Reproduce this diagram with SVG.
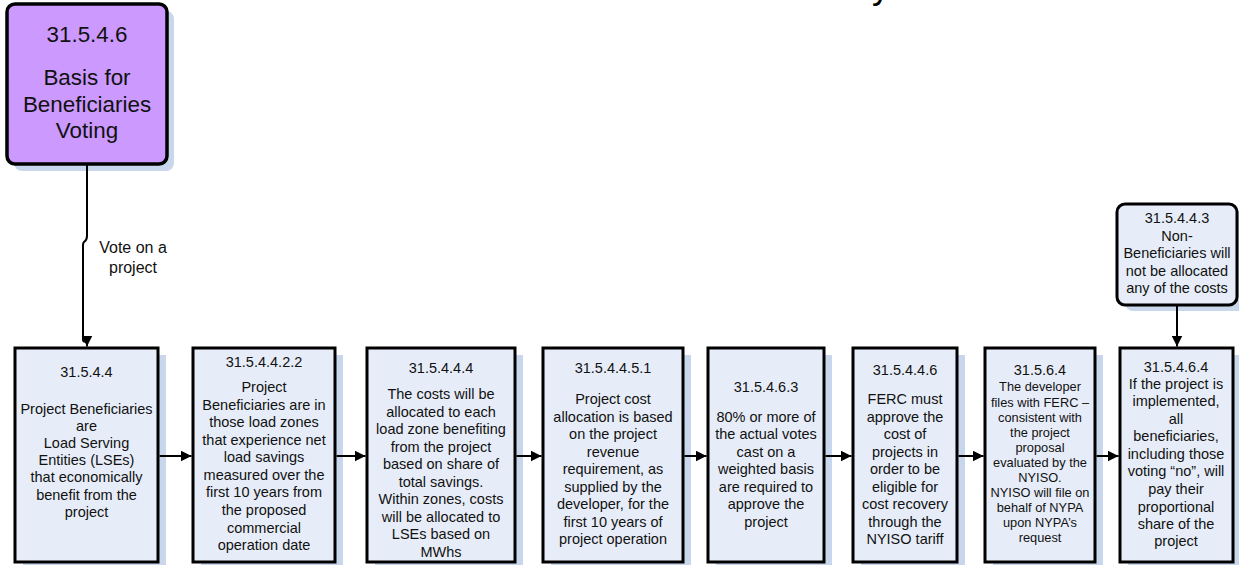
<svg xmlns="http://www.w3.org/2000/svg" width="1239" height="565" viewBox="0 0 1239 565">
<defs>
<style>
.box{fill:#e7edf8;stroke:#000;stroke-width:3}
.shadow{fill:#c9d7ec}
.purple{fill:#cc99ff;stroke:#000;stroke-width:3.5}
.t{font-family:"Liberation Sans",Arial,sans-serif;font-size:14.5px;fill:#111;text-anchor:middle}
.ts{font-family:"Liberation Sans",Arial,sans-serif;font-size:12.8px;fill:#111;text-anchor:middle}
.tb{font-family:"Liberation Sans",Arial,sans-serif;font-size:22.4px;fill:#111;text-anchor:middle}
.lbl{font-family:"Liberation Sans",Arial,sans-serif;font-size:16px;fill:#111;text-anchor:middle}
.conn{fill:none;stroke:#000;stroke-width:2}
</style>
<marker id="ah" viewBox="0 0 10 10" refX="10" refY="5" markerWidth="11" markerHeight="11" markerUnits="userSpaceOnUse" orient="auto">
<path d="M0,0 L10,5 L0,10 Z" fill="#000"/>
</marker>
</defs>
<rect width="1239" height="565" fill="#fff"/>
<text x="872" y="-2.5" font-family="Liberation Sans, Arial, sans-serif" font-size="36" fill="#000">y</text>

<g id="node-basis">
<rect class="shadow" x="14" y="11" width="160" height="160" rx="8"/>
<rect class="purple" x="7" y="4" width="160" height="160" rx="8"/>
<text class="tb" x="87" y="42">31.5.4.6</text>
<text class="tb" x="87" y="85">Basis for</text>
<text class="tb" x="87" y="112">Beneficiaries</text>
<text class="tb" x="87" y="138">Voting</text>
</g>

<g id="node-nonbenef">
<rect class="shadow" x="1125" y="210" width="120" height="101" rx="8"/>
<rect class="box" x="1117" y="204" width="120" height="101" rx="8"/>
<text class="t" x="1177" y="223">31.5.4.4.3</text>
<text class="t" x="1177" y="241">Non-</text>
<text class="t" x="1177" y="258">Beneficiaries will</text>
<text class="t" x="1177" y="276">not be allocated</text>
<text class="t" x="1177" y="293">any of the costs</text>
</g>

<g id="node-1">
<rect class="shadow" x="23" y="355" width="143" height="214"/>
<rect class="box" x="15" y="348" width="143" height="214"/>
<text class="t" x="86.5" y="377">31.5.4.4</text>
<text class="t" x="86.5" y="414">Project Beneficiaries</text>
<text class="t" x="86.5" y="431">are</text>
<text class="t" x="86.5" y="448">Load Serving</text>
<text class="t" x="86.5" y="465">Entities (LSEs)</text>
<text class="t" x="86.5" y="482">that economically</text>
<text class="t" x="86.5" y="500">benefit from the</text>
<text class="t" x="86.5" y="517">project</text>
</g>

<g id="node-2">
<rect class="shadow" x="201" y="355" width="142" height="214"/>
<rect class="box" x="193" y="348" width="142" height="214"/>
<text class="t" x="264" y="367">31.5.4.4.2.2</text>
<text class="t" x="264" y="392">Project</text>
<text class="t" x="264" y="410">Beneficiaries are in</text>
<text class="t" x="264" y="427">those load zones</text>
<text class="t" x="264" y="445">that experience net</text>
<text class="t" x="264" y="462">load savings</text>
<text class="t" x="264" y="480">measured over the</text>
<text class="t" x="264" y="497">first 10 years from</text>
<text class="t" x="264" y="515">the proposed</text>
<text class="t" x="264" y="533">commercial</text>
<text class="t" x="264" y="550">operation date</text>
</g>

<g id="node-3">
<rect class="shadow" x="375" y="355" width="148" height="214"/>
<rect class="box" x="367" y="348" width="148" height="214"/>
<text class="t" x="441" y="373">31.5.4.4.4</text>
<text class="t" x="441" y="399">The costs will be</text>
<text class="t" x="441" y="417">allocated to each</text>
<text class="t" x="441" y="434">load zone benefiting</text>
<text class="t" x="441" y="452">from the project</text>
<text class="t" x="441" y="469">based on share of</text>
<text class="t" x="441" y="487">total savings.</text>
<text class="t" x="441" y="504">Within zones, costs</text>
<text class="t" x="441" y="522">will be allocated to</text>
<text class="t" x="441" y="539">LSEs based on</text>
<text class="t" x="441" y="557">MWhs</text>
</g>

<g id="node-4">
<rect class="shadow" x="551" y="355" width="140" height="214"/>
<rect class="box" x="543" y="348" width="140" height="214"/>
<text class="t" x="613" y="373">31.5.4.4.5.1</text>
<text class="t" x="613" y="404">Project cost</text>
<text class="t" x="613" y="422">allocation is based</text>
<text class="t" x="613" y="439">on the project</text>
<text class="t" x="613" y="457">revenue</text>
<text class="t" x="613" y="474">requirement, as</text>
<text class="t" x="613" y="492">supplied by the</text>
<text class="t" x="613" y="509">developer, for the</text>
<text class="t" x="613" y="527">first 10 years of</text>
<text class="t" x="613" y="544">project operation</text>
</g>

<g id="node-5">
<rect class="shadow" x="716" y="355" width="116" height="214"/>
<rect class="box" x="708" y="348" width="116" height="214"/>
<text class="t" x="766" y="392">31.5.4.6.3</text>
<text class="t" x="766" y="422">80% or more of</text>
<text class="t" x="766" y="439">the actual votes</text>
<text class="t" x="766" y="457">cast on a</text>
<text class="t" x="766" y="474">weighted basis</text>
<text class="t" x="766" y="492">are required to</text>
<text class="t" x="766" y="509">approve the</text>
<text class="t" x="766" y="527">project</text>
</g>

<g id="node-6">
<rect class="shadow" x="861" y="355" width="104" height="214"/>
<rect class="box" x="853" y="348" width="104" height="214"/>
<text class="t" x="905" y="375">31.5.4.4.6</text>
<text class="t" x="905" y="404">FERC must</text>
<text class="t" x="905" y="422">approve the</text>
<text class="t" x="905" y="439">cost of</text>
<text class="t" x="905" y="457">projects in</text>
<text class="t" x="905" y="474">order to be</text>
<text class="t" x="905" y="492">eligible for</text>
<text class="t" x="905" y="509">cost recovery</text>
<text class="t" x="905" y="527">through the</text>
<text class="t" x="905" y="544">NYISO tariff</text>
</g>

<g id="node-7">
<rect class="shadow" x="993" y="355" width="110" height="214"/>
<rect class="box" x="985" y="348" width="110" height="214"/>
<text class="t" x="1040" y="375">31.5.6.4</text>
<text class="ts" x="1040" y="391">The developer</text>
<text class="ts" x="1040" y="407">files with FERC –</text>
<text class="ts" x="1040" y="422">consistent with</text>
<text class="ts" x="1040" y="437">the project</text>
<text class="ts" x="1040" y="452">proposal</text>
<text class="ts" x="1040" y="467">evaluated by the</text>
<text class="ts" x="1040" y="482">NYISO.</text>
<text class="ts" x="1040" y="497">NYISO will file on</text>
<text class="ts" x="1040" y="512">behalf of NYPA</text>
<text class="ts" x="1040" y="527">upon NYPA’s</text>
<text class="ts" x="1040" y="542">request</text>
</g>

<g id="node-8">
<rect class="shadow" x="1128" y="355" width="113" height="214"/>
<rect class="box" x="1120" y="348" width="113" height="214"/>
<text class="t" x="1176" y="372">31.5.4.6.4</text>
<text class="t" x="1176" y="389">If the project is</text>
<text class="t" x="1176" y="406">implemented,</text>
<text class="t" x="1176" y="424">all</text>
<text class="t" x="1176" y="441">beneficiaries,</text>
<text class="t" x="1176" y="459">including those</text>
<text class="t" x="1176" y="476">voting “no”, will</text>
<text class="t" x="1176" y="494">pay their</text>
<text class="t" x="1176" y="512">proportional</text>
<text class="t" x="1176" y="529">share of the</text>
<text class="t" x="1176" y="546">project</text>
</g>

<g id="connectors">
<path class="conn" d="M87,165 V236 Q87,240 84,242 Q83,243 83,245 V340 Q83,342 87,342 V346.5" marker-end="url(#ah)"/>
<text class="lbl" x="133" y="253">Vote on a</text>
<text class="lbl" x="133" y="273">project</text>
<line class="conn" x1="1177" y1="306" x2="1177" y2="346.5" marker-end="url(#ah)"/>
<line class="conn" x1="159.5" y1="456" x2="191.5" y2="456" marker-end="url(#ah)"/>
<line class="conn" x1="336.5" y1="456" x2="365.5" y2="456" marker-end="url(#ah)"/>
<line class="conn" x1="516.5" y1="456" x2="541.5" y2="456" marker-end="url(#ah)"/>
<line class="conn" x1="684.5" y1="456" x2="706.5" y2="456" marker-end="url(#ah)"/>
<line class="conn" x1="825.5" y1="456" x2="851.5" y2="456" marker-end="url(#ah)"/>
<line class="conn" x1="958.5" y1="456" x2="983.5" y2="456" marker-end="url(#ah)"/>
<line class="conn" x1="1096.5" y1="456" x2="1118.5" y2="456" marker-end="url(#ah)"/>
</g>
</svg>
